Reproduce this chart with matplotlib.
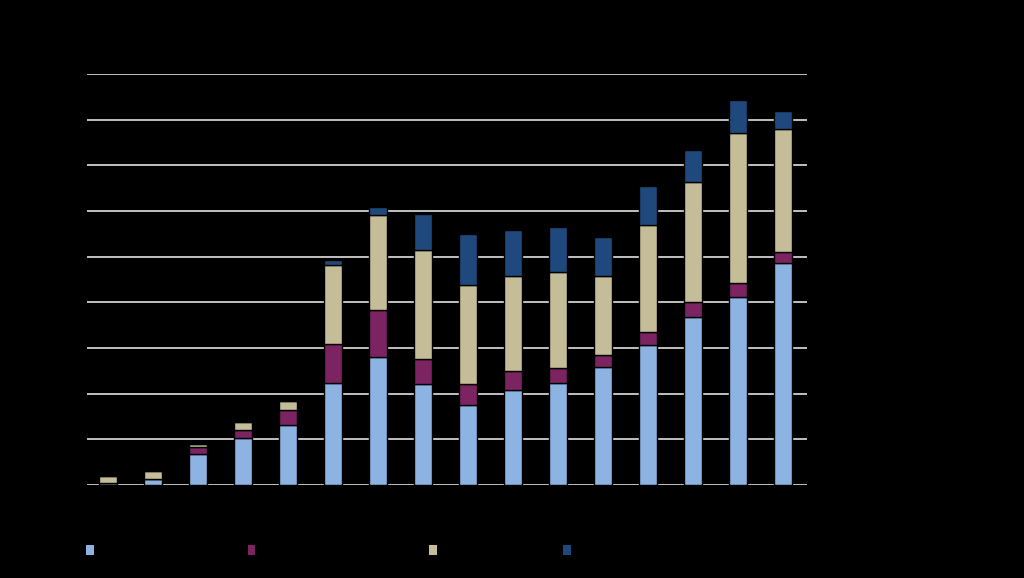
import matplotlib.pyplot as plt
from matplotlib.patches import Patch
import numpy as np

# valeurs (une graduation = 10)
years = [str(y) for y in range(1995, 2011)]
light_blue = [0.4, 1.3, 6.8, 10.3, 13.1, 22.3, 28.0, 22.1, 17.5, 20.8, 22.3, 25.8, 30.6, 36.8, 41.1, 48.6]
purple = [0.0, 0.0, 1.5, 1.8, 3.3, 8.5, 10.3, 5.5, 4.6, 4.2, 3.3, 2.6, 2.8, 3.3, 3.1, 2.4]
beige = [1.6, 1.8, 0.6, 1.7, 2.0, 17.3, 20.8, 23.9, 21.7, 20.8, 21.0, 17.3, 23.6, 26.3, 32.8, 26.9]
dark_blue = [0.0, 0.0, 0.2, 0.0, 0.0, 1.1, 1.7, 7.9, 11.2, 10.1, 9.8, 8.5, 8.5, 7.0, 7.2, 3.9]
series_names = ['Series 1', 'Series 2', 'Series 3', 'Series 4']
colors = ['#8db3e2', '#7b2461', '#c4bd97', '#1f497d']

fig = plt.figure(figsize=(10.24, 5.78), dpi=100, facecolor='black')
ax = fig.add_axes([0.085, 0.161, 0.703, 0.711])
ax.set_facecolor('black')

x = np.arange(len(years))
bottom = np.zeros(len(years))
for vals, col in zip([light_blue, purple, beige, dark_blue], colors):
    ax.bar(x, vals, width=0.39, bottom=bottom, color=col, edgecolor='black', linewidth=1.0, zorder=3)
    bottom += np.array(vals)

ax.set_xlim(-0.47, 15.53)
ax.set_ylim(0, 90)
ax.set_yticks(np.arange(0, 91, 10))
ax.yaxis.grid(True, color='#d0d0d0', linewidth=1.3, zorder=0)
ax.set_xticks(x)
ax.set_xticklabels(years, color='black', fontsize=8)
ax.tick_params(axis='y', colors='black', labelsize=8, length=0)
ax.tick_params(axis='x', length=0)
for s in ax.spines.values():
    s.set_visible(False)

# légende : un carré par série, positions
legend_x = [0.084, 0.242, 0.419, 0.550]
for name, col, lx in zip(series_names, colors, legend_x):
    leg = fig.legend(handles=[Patch(facecolor=col, edgecolor='none')], labels=[name],
                     loc='center left', bbox_to_anchor=(lx, 1 - 551 / 578), frameon=False,
                     handlelength=0.6, handleheight=0.9, handletextpad=0.5, fontsize=9,
                     labelcolor='black', borderpad=0, borderaxespad=0)

fig.savefig('out.png', dpi=100, facecolor='black')
